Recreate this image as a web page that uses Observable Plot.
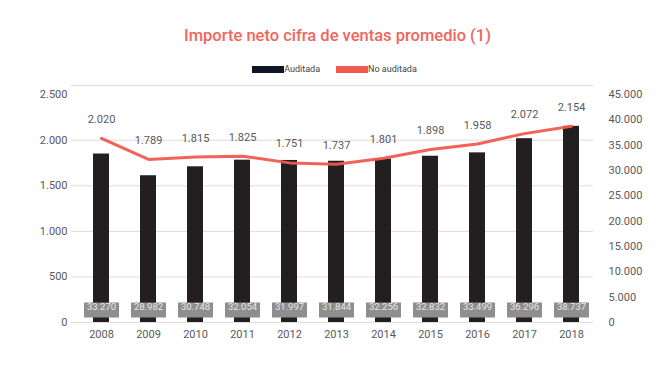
<!DOCTYPE html>
<html>
<head>
<meta charset="utf-8">
<script src="https://cdn.jsdelivr.net/npm/d3@7"></script>
<script src="https://cdn.jsdelivr.net/npm/@observablehq/plot@0.6"></script>
<style>
  html, body { margin: 0; padding: 0; background: #fff; width: 659px; height: 371px; overflow: hidden; }
  body { font-family: Roboto, "Noto Sans", sans-serif; }
  #title { height: 20px; padding-top: 26px; line-height: 20px; text-align: center; font-size: 16.5px; font-weight: 500; color: #f0665c; padding-left: 16px; }
  #legend { height: 14px; padding-top: 16px; display: flex; justify-content: center; align-items: center; font-size: 9px; color: #444; padding-left: 10px; }
  #legend .sw { width: 32px; height: 7px; display: inline-block; }
  #legend .item { display: flex; align-items: center; margin: 0 8px; }
  #chart svg { display: block; }
</style>
</head>
<body>
<div id="title">Importe neto cifra de ventas promedio (1)</div>
<div id="legend"></div>
<div id="chart"></div>
<script>
// ---- data ----
const years = ["2008","2009","2010","2011","2012","2013","2014","2015","2016","2017","2018"];
const auditada = [33270, 28982, 30748, 32054, 31997, 31844, 32256, 32832, 33499, 36296, 38737];
const noAuditada = [2020, 1789, 1815, 1825, 1751, 1737, 1801, 1898, 1958, 2072, 2154];
const leftTicks = [0, 500, 1000, 1500, 2000, 2500];
const rightTicks = [0, 5000, 10000, 15000, 20000, 25000, 30000, 35000, 40000, 45000];
const gridTicks = [0, 500, 1000, 1500, 2000];
const seriesNames = ["Auditada", "No auditada"];
const seriesColors = ["#0e1626", "#f25a50"];

// ---- helpers ----
const leftMax = 2600;          // top of plot frame (left axis units)
const ratio = 45000 / 2500;    // right axis / left axis
const es = d3.formatLocale({decimal: ",", thousands: ".", grouping: [3], currency: ["", ""]});
const fmt = es.format(",d");
const table = years.map((y, i) => ({year: y, auditada: auditada[i], noAuditada: noAuditada[i]}));

// legend
const legend = document.getElementById("legend");
seriesNames.forEach((n, i) => {
  const it = document.createElement("span");
  it.className = "item";
  it.innerHTML = `<span class="sw" style="background:${seriesColors[i]}"></span><span>${n}</span>`;
  legend.appendChild(it);
});

// rectangular symbol for value boxes
const boxSymbol = {
  draw(ctx) {
    ctx.moveTo(-17.5, -7.5); ctx.lineTo(17.5, -7.5); ctx.lineTo(17.5, 7.5); ctx.lineTo(-17.5, 7.5); ctx.closePath();
  }
};

const chart = Plot.plot({
  width: 659,
  height: 295,
  marginTop: 9,
  marginBottom: 49,
  marginLeft: 76,
  marginRight: 63,
  style: {fontFamily: "Roboto, 'Noto Sans', sans-serif", fontSize: "11px", color: "#595959", background: "#fff"},
  x: {domain: years, paddingInner: 0.65, paddingOuter: 0.325, label: null},
  y: {domain: [0, leftMax], label: null},
  marks: [
    Plot.ruleY(gridTicks, {stroke: "#dcdcdc", strokeWidth: 1, insetLeft: -5, insetRight: 3}),
    Plot.ruleY([leftMax], {stroke: "#e2e2e2", strokeWidth: 1.5, insetLeft: -5, insetRight: 3}),
    Plot.axisY(leftTicks, {anchor: "left", tickSize: 0, tickPadding: 9, tickFormat: fmt, fill: "#595959", label: null}),
    Plot.axisY(rightTicks.map(t => t / ratio), {anchor: "right", tickSize: 0, tickPadding: 12, tickFormat: d => fmt(Math.round(d * ratio)), fill: "#595959", label: null}),
    Plot.axisX({tickSize: 0, tickPadding: 8, fill: "#595959", label: null}),
    Plot.barY(table, {x: "year", y: d => d.auditada / ratio, fill: "#231f20"}),
    Plot.lineY(table, {x: "year", y: "noAuditada", stroke: seriesColors[1], strokeWidth: 3, strokeOpacity: 0.95}),
    Plot.text(table, {x: "year", y: "noAuditada", text: d => fmt(d.noAuditada), dy: -19, fill: "#595959", fontSize: 11}),
    Plot.dot(table, {x: "year", frameAnchor: "bottom", symbol: boxSymbol, fill: "#8e8e8e", stroke: "none", dy: -12.5}),
    Plot.text(table, {x: "year", frameAnchor: "bottom", text: d => fmt(d.auditada), dy: -12.5, fill: "#e6e6e6", fontSize: 9.5})
  ]
});
document.getElementById("chart").appendChild(chart);
</script>
</body>
</html>
